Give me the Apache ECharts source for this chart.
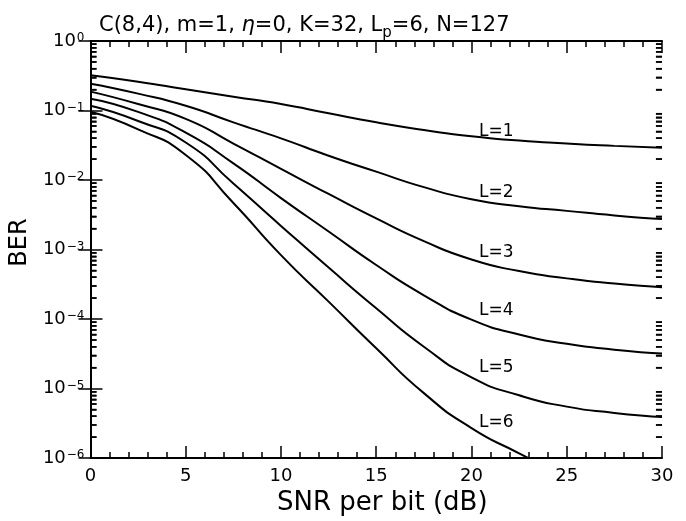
<!DOCTYPE html>
<html>
<head>
<meta charset="utf-8">
<script src="https://cdn.jsdelivr.net/npm/echarts@6/dist/echarts.min.js"></script>
<style>html,body{margin:0;padding:0;background:#fff;}#c{width:686px;height:521px;}</style>
</head>
<body>
<div id="c"></div>
<script>
// SNR per bit (dB)
var snr = [0, 2.5, 5, 7.5, 10, 12.5, 15, 17.5, 20, 22.5, 25, 27.5, 30];
var snrL6 = [0, 2.5, 5, 7.5, 10, 12.5, 15, 17.5, 20, 22.5, 23];
// BER values
var berL1 = [0.322, 0.259, 0.202, 0.158, 0.124, 0.0912, 0.0676, 0.0525, 0.0425, 0.0369, 0.0335, 0.0310, 0.0291];
var berL2 = [0.243, 0.175, 0.117, 0.0676, 0.0398, 0.0224, 0.0132, 0.0079, 0.0053, 0.0042, 0.0036, 0.0031, 0.00274];
var berL3 = [0.187, 0.124, 0.0759, 0.0335, 0.0145, 0.0063, 0.0028, 0.00132, 7.2e-4, 4.9e-4, 3.85e-4, 3.24e-4, 2.88e-4];
var berL4 = [0.148, 0.0955, 0.0479, 0.0174, 0.0055, 0.00182, 6.0e-4, 2.2e-4, 9.8e-5, 6.0e-5, 4.4e-5, 3.63e-5, 3.2e-5];
var berL5 = [0.117, 0.0708, 0.0347, 0.00891, 0.00219, 5.5e-4, 1.43e-4, 4.0e-5, 1.45e-5, 8.0e-6, 5.5e-6, 4.47e-6, 3.89e-6];
var berL6 = [0.096, 0.0537, 0.0229, 0.00468, 8.3e-4, 1.78e-4, 3.8e-5, 8.6e-6, 2.7e-6, 1.17e-6, 1.0e-6];
// curve labels
var curveNames = ['L=1', 'L=2', 'L=3', 'L=4', 'L=5', 'L=6'];
var labelX = [21.3, 21.3, 21.3, 21.3, 21.3, 21.3];
var labelY = [0.050, 0.0065, 8.9e-4, 1.32e-4, 2.0e-5, 3.2e-6];
// tick labels
var xTickLabels = ['0', '5', '10', '15', '20', '25', '30'];
var yExponents = ['0', '−1', '−2', '−3', '−4', '−5', '−6'];

var FONT = 'DejaVu Sans';
function pairs(xs, ys) { return xs.map(function (x, i) { return [x, ys[i]]; }); }

// minor tick positions on the log axis (2..9 within each decade)
var minorValues = [];
for (var e = -6; e < 0; e++) {
  for (var k = 2; k <= 9; k++) minorValues.push(k * Math.pow(10, e));
}
var minorTicks = minorValues.map(function (v) { return [15, v]; });
// tick segments as mark lines (x in dB: about 6 px long at each border)
var tickMarkLines = [];
minorValues.forEach(function (v) {
  tickMarkLines.push([{ coord: [0, v] }, { coord: [0.32, v] }]);
  tickMarkLines.push([{ coord: [29.68, v] }, { coord: [30, v] }]);
});

var chart = echarts.init(document.getElementById('c'), null, { renderer: 'canvas' });
var allBer = [berL1, berL2, berL3, berL4, berL5];
var series = allBer.map(function (b, i) {
  return {
    type: 'line', name: curveNames[i], data: pairs(snr, b), showSymbol: false, symbol: 'none',
    smooth: 0.6, lineStyle: { color: '#000', width: 2 }, silent: true, z: 3
  };
});
series.push({
  type: 'line', name: curveNames[5], data: pairs(snrL6, berL6), showSymbol: false, symbol: 'none',
  smooth: 0.6, lineStyle: { color: '#000', width: 2 }, silent: true, z: 3
});
series.push({
  type: 'scatter', data: labelX.map(function (x, i) { return { value: [x, labelY[i]], name: curveNames[i] }; }),
  symbolSize: 2, itemStyle: { color: 'rgba(0,0,0,0)' }, silent: true, z: 6,
  label: { show: true, position: 'inside', formatter: function (p) { return p.name; },
    color: '#000', opacity: 1, textBorderWidth: 0, fontFamily: FONT, fontSize: 17, fontWeight: 'normal' },
  markLine: {
    silent: true, animation: false, symbol: ['none', 'none'], precision: 10,
    label: { show: false }, emphasis: { disabled: true },
    lineStyle: { color: '#000', width: 1.5, type: 'solid', opacity: 1 },
    data: tickMarkLines
  }
});
// minor ticks on both vertical borders, placed through the y scale
series.push({
  type: 'custom', data: minorTicks, silent: true, clip: false, z: 20,
  renderItem: function (params, api) {
    var p = api.coord([15, api.value(1)]);
    var cs = params.coordSys;
    return {
      type: 'group',
      children: [
        { type: 'rect', shape: { x: cs.x, y: p[1] - 0.75, width: 6, height: 1.5 }, style: { fill: '#000' } },
        { type: 'rect', shape: { x: cs.x + cs.width - 6, y: p[1] - 0.75, width: 6, height: 1.5 }, style: { fill: '#000' } }
      ]
    };
  }
});

var expMap = {};
for (var i = 0; i <= 6; i++) expMap[Math.pow(10, -i).toPrecision(6)] = yExponents[i];

var xBase = {
  type: 'value', min: 0, max: 30, interval: 5,
  axisLine: { show: true, lineStyle: { color: '#000', width: 2 } },
  axisTick: { show: true, inside: true, length: 12, lineStyle: { color: '#000', width: 1.5 } },
  minorTick: { show: true, splitNumber: 5, length: 6, lineStyle: { color: '#000', width: 1.5 } },
  splitLine: { show: false }, minorSplitLine: { show: false }
};

var option = {
  animation: false,
  title: {
    left: 94, top: 10,
    text: '{n|C(8,4), m=1, }{it|η}{n|=0, K=32, L}{sub|p}{n|=6, N=127}',
    textStyle: {
      fontWeight: 'normal',
      rich: {
        n: { fontFamily: FONT, fontSize: 21, fontWeight: 'normal', color: '#000', lineHeight: 26, verticalAlign: 'top' },
        it: { fontFamily: FONT, fontSize: 21, fontWeight: 'normal', fontStyle: 'italic', color: '#000', lineHeight: 26, verticalAlign: 'top' },
        sub: { fontFamily: FONT, fontSize: 15, fontWeight: 'normal', color: '#000', lineHeight: 15, verticalAlign: 'bottom' }
      }
    }
  },
  grid: { left: 89, right: 24, top: 41, bottom: 57, containLabel: false },
  xAxis: [
    Object.assign({}, xBase, {
      position: 'bottom',
      name: 'SNR per bit (dB)', nameLocation: 'middle', nameGap: 28,
      nameTextStyle: { fontFamily: FONT, fontSize: 26, color: '#000', padding: [0, 0, 0, 12] },
      axisLabel: { show: true, margin: 9, fontFamily: FONT, fontSize: 18, color: '#000',
        showMinLabel: true, showMaxLabel: true,
        formatter: function (v) { return xTickLabels[Math.round(v / 5)]; } }
    }),
    Object.assign({}, xBase, { position: 'top', axisLabel: { show: false } })
  ],
  yAxis: [
    {
      type: 'log', logBase: 10, min: 1e-6, max: 1, position: 'left',
      name: 'BER', nameLocation: 'middle', nameGap: 55, nameRotate: 90,
      nameTextStyle: { fontFamily: FONT, fontSize: 24, color: '#000', padding: [0, 0, 0, 14] },
      axisLine: { show: true, lineStyle: { color: '#000', width: 2 } },
      axisTick: { show: true, inside: true, length: 12, lineStyle: { color: '#000', width: 1.5 } },
      minorTick: { show: false }, splitLine: { show: false },
      axisLabel: {
        show: true, margin: 6, showMinLabel: true, showMaxLabel: true,
        formatter: function (v) { return '{b|10}{s|' + expMap[v.toPrecision(6)] + '}'; },
        rich: {
          b: { fontFamily: FONT, fontSize: 18, color: '#000', lineHeight: 18, verticalAlign: 'bottom' },
          s: { fontFamily: FONT, fontSize: 12, color: '#000', lineHeight: 12, verticalAlign: 'top', padding: [0, 0, 10, 1] }
        }
      }
    },
    {
      type: 'log', logBase: 10, min: 1e-6, max: 1, position: 'right',
      axisLine: { show: true, lineStyle: { color: '#000', width: 2 } },
      axisTick: { show: true, inside: true, length: 12, lineStyle: { color: '#000', width: 1.5 } },
      axisLabel: { show: false }, splitLine: { show: false }, minorTick: { show: false }
    }
  ],
  series: series
};
chart.setOption(option);
</script>
</body>
</html>
